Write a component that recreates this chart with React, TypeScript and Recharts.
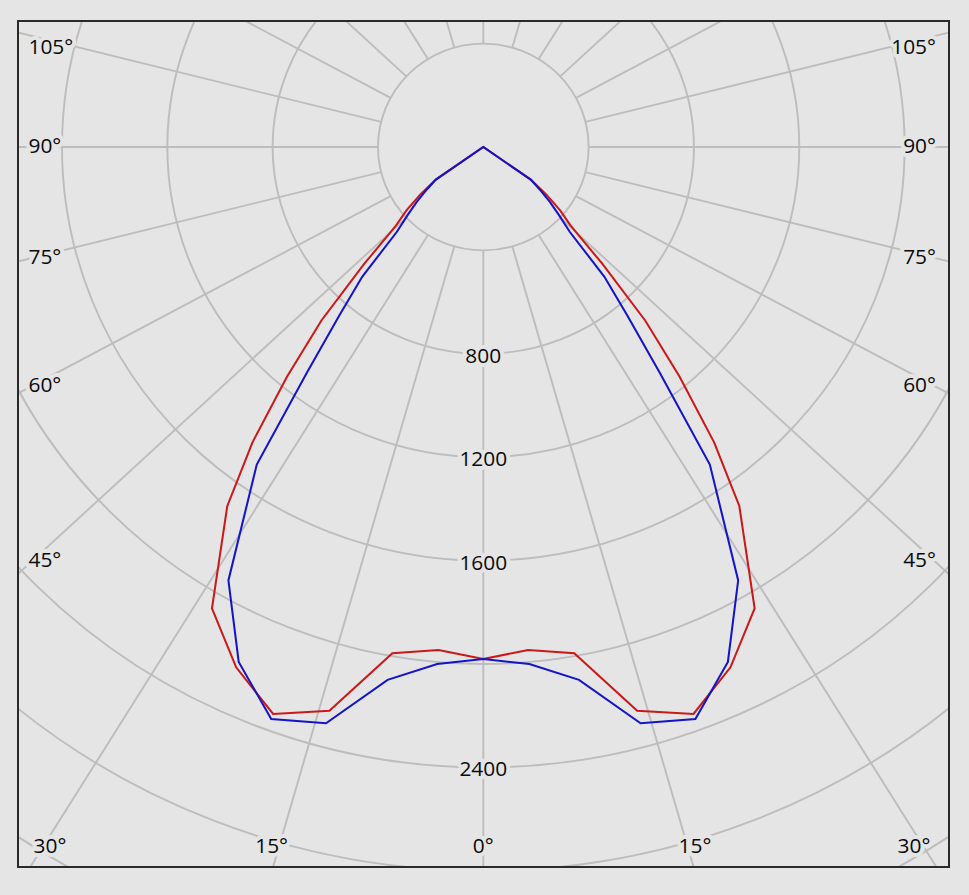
import { RadarChart, Radar, PolarGrid, PolarAngleAxis, PolarRadiusAxis } from 'recharts';

// gamma angles (deg from nadir) and intensities for the two planes, mirrored on the left side
const GAMMA = [0, 5, 10, 15, 20, 25, 30, 35, 37.5, 40, 42.5, 45, 47.5, 50, 52.5, 55, 60, 90, 120, 150, 180];
const RED = [1981, 1953, 1989, 2258, 2334, 2221, 2061, 1695, 1440, 1160, 910, 640, 450, 380, 300, 220, 0, 0, 0, 0, 0];
const BLUE = [1981, 2008, 2093, 2308, 2355, 2198, 1936, 1500, 1100, 850, 680, 465, 390, 330, 270, 220, 0, 0, 0, 0, 0];

const RINGS = [400, 800, 1200, 1600, 2000, 2400, 2800, 3200, 3600];
const RING_LABELS = [800, 1200, 1600, 2400];
const ANGLE_LABELS = [0, 15, 30, 45, 60, 75, 90, 105];
const SPOKES = [0, 15, 30, 45, 60, 75, 90, 105, 120, 135, 150, 165, 180];
const SPOKE_SKEW = 1.07; // the grid rays in the source image are drawn slightly flattened

const BG = '#e5e5e5';
const FONT = '"Open Sans", "Noto Sans", sans-serif';
const FONT_SIZE = 20.5;

// frame interior starts at page (19, 22)
const W = 929;
const H = 844;
const CX = 464.3;
const CY = 125;
const K = 0.2585; // px per cd (vertical)
const S = 1.0186; // horizontal stretch of the original picture

const rows: { gamma: number; c0: number; c90: number }[] = [];
GAMMA.forEach((g, i) => rows.push({ gamma: g, c0: RED[i], c90: BLUE[i] }));
for (let i = GAMMA.length - 2; i >= 1; i--) {
  rows.push({ gamma: 360 - GAMMA[i], c0: RED[i], c90: BLUE[i] });
}

const spokeAngles: number[] = [];
SPOKES.forEach((g) => {
  const r = (g * Math.PI) / 180;
  const app = (Math.atan2(SPOKE_SKEW * Math.sin(r), Math.cos(r)) * 180) / Math.PI;
  spokeAngles.push(-90 + app);
  if (g > 0 && g < 180) spokeAngles.push(-90 - app);
});

const angleTicks: number[] = [];
ANGLE_LABELS.forEach((g) => {
  angleTicks.push(g);
  if (g > 0) angleTicks.push(360 - g);
});

const toChartX = (px: number) => CX + (px - 19 - CX) / S;

const labelStyle = {
  fontFamily: FONT,
  fontSize: FONT_SIZE,
  fill: '#0a0a0a',
  stroke: BG,
  strokeWidth: 8,
  strokeLinejoin: 'round' as const,
  paintOrder: 'stroke' as const,
};

function AngleTick(props: any) {
  const { x, y, payload } = props;
  const dx = x - CX;
  const dy = y - CY;
  const v = payload.value;
  const label = `${v <= 180 ? v : 360 - v}°`;
  let px: number;
  let py: number;
  let anchor: 'start' | 'middle' | 'end' = 'middle';
  if (dy > 0 && Math.abs(dx) / dy < 0.8) {
    py = 845;
    px = Math.min(914, Math.max(50, 483.3 + 790 * (dx / dy)));
  } else {
    const cot = dy / Math.abs(dx);
    py = 145 + (cot >= 0 ? 414 : 368) * cot;
    if (dx < 0) {
      px = 28.5;
      anchor = 'start';
    } else {
      px = 936;
      anchor = 'end';
    }
  }
  return (
    <text x={toChartX(px)} y={py - 22} textAnchor={anchor} dominantBaseline="central" style={labelStyle}>
      {label}
    </text>
  );
}

function RadiusTick(props: any) {
  const { x, y, payload } = props;
  if (!RING_LABELS.includes(payload.value)) return <g />;
  return (
    <text x={x} y={y + 1} textAnchor="middle" dominantBaseline="central" style={labelStyle}>
      {payload.value}
    </text>
  );
}

export default function App() {
  return (
    <div style={{ position: 'absolute', left: 0, top: 0, width: 969, height: 895, background: BG }}>
      <div
        style={{
          position: 'absolute',
          left: 17,
          top: 20,
          width: 933,
          height: 848,
          border: '2px solid #2a2a2a',
          boxSizing: 'border-box',
          overflow: 'hidden',
        }}
      >
        <div style={{ width: W, height: H, transform: `scaleX(${S})`, transformOrigin: `${CX}px ${CY}px` }}>
          <RadarChart
            width={W}
            height={H}
            data={rows}
            cx={CX}
            cy={CY}
            innerRadius={400 * K}
            outerRadius={3600 * K}
            startAngle={-90}
            endAngle={270}
            margin={{ top: 0, right: 0, bottom: 0, left: 0 }}
          >
            <PolarGrid gridType="circle" polarAngles={spokeAngles} stroke="#bdbdbd" strokeWidth={1.9} />
            <PolarAngleAxis
              dataKey="gamma"
              type="number"
              domain={[0, 360]}
              ticks={angleTicks}
              tick={(p: any) => <AngleTick {...p} />}
              axisLine={false}
              tickLine={false}
            />
            <PolarRadiusAxis
              angle={-90}
              domain={[400, 3600]}
              ticks={RINGS}
              allowDataOverflow
              tick={(p: any) => <RadiusTick {...p} />}
              axisLine={false}
              tickLine={false}
            />
            <Radar dataKey="c0" stroke="#cc1818" strokeWidth={2} fill="none" fillOpacity={0} dot={false} isAnimationActive={false} />
            <Radar dataKey="c90" stroke="#1414c8" strokeWidth={2} fill="none" fillOpacity={0} dot={false} isAnimationActive={false} />
          </RadarChart>
        </div>
      </div>
    </div>
  );
}
